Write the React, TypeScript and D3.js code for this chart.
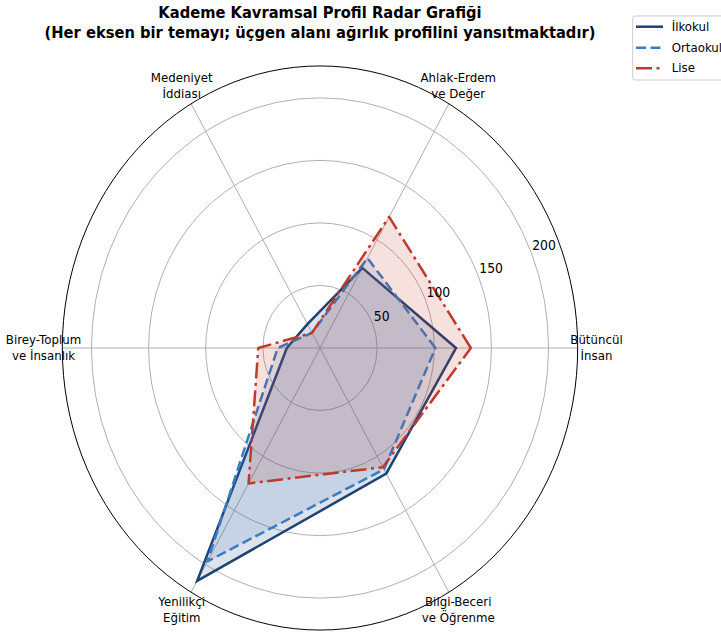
import React from "react";
import * as d3 from "d3";

const axisLabels = [
  ["Bütüncül", "İnsan"],
  ["Ahlak-Erdem", "ve Değer"],
  ["Medeniyet", "İddiası"],
  ["Birey-Toplum", "ve İnsanlık"],
  ["Yenilikçi", "Eğitim"],
  ["Bilgi-Beceri", "ve Öğrenme"],
];
const ilkokul = [119, 74, 22, 29, 215, 116];
const ortaokul = [101, 83, 14, 37, 197, 112];
const lise = [132, 121, 14, 54, 125, 110];
const rTicks = [50, 100, 150, 200];
const rMax = 225.5;

const seriesNames = ["İlkokul", "Ortaokul", "Lise"];
const seriesColors = ["#1d4273", "#3a7cc3", "#c0392b"];
const seriesDash = ["none", "10,4.5", "16,4.5,3,4.5"];
const seriesData = [ilkokul, ortaokul, lise];

const W = 721;
const H = 635;
const SY = 1.0945;
const cx = 320;
const cy = 348 / SY;
const R = 257.7;
const FONT = "DejaVu Sans, sans-serif";

export default function App() {
  const r = d3.scaleLinear().domain([0, rMax]).range([0, R]);
  const n = axisLabels.length;
  const theta = (i: number) => (i * 2 * Math.PI) / n;
  const radial = d3
    .lineRadial<number>()
    .angle((_d, i) => Math.PI / 2 - theta(i))
    .radius((d) => r(d))
    .curve(d3.curveLinearClosed);

  const tickAng = (22.5 * Math.PI) / 180;

  return (
    <svg
      width={W}
      height={H}
      style={{ position: "absolute", left: 0, top: 0, display: "block", background: "#fff" }}
      fontFamily={FONT}
    >
      <g transform={`scale(1,${SY})`}>
        {/* title */}
        <text x={320} y={16.8} textAnchor="middle" fontWeight="bold" fontSize={14.7} fill="#000">
          Kademe Kavramsal Profil Radar Grafiği
        </text>
        <text x={320} y={34.4} textAnchor="middle" fontWeight="bold" fontSize={14.7} fill="#000">
          (Her eksen bir temayı; üçgen alanı ağırlık profilini yansıtmaktadır)
        </text>

        <g transform={`translate(${cx},${cy})`}>
          {/* grid circles */}
          {rTicks.map((t) => (
            <circle key={t} r={r(t)} fill="none" stroke="#b0b0b0" strokeWidth={1} vectorEffect="non-scaling-stroke" />
          ))}
          {/* spokes */}
          {axisLabels.map((_, i) => (
            <line
              key={i}
              x1={0}
              y1={0}
              x2={R * Math.cos(theta(i))}
              y2={-R * Math.sin(theta(i))}
              stroke="#b0b0b0"
              strokeWidth={1}
              vectorEffect="non-scaling-stroke"
            />
          ))}
          {/* series */}
          {seriesData.map((data, s) => (
            <g key={s}>
              <path d={radial(data) || ""} fill={seriesColors[s]} fillOpacity={0.15} stroke="none" />
              <path
                d={radial(data) || ""}
                fill="none"
                stroke={seriesColors[s]}
                strokeWidth={2.5}
                strokeDasharray={seriesDash[s]}
                strokeLinejoin={s === 0 ? "miter" : "round"}
                vectorEffect="non-scaling-stroke"
              />
            </g>
          ))}
          {/* outer circle */}
          <circle r={R} fill="none" stroke="#000" strokeWidth={1} vectorEffect="non-scaling-stroke" />
          {/* r tick labels */}
          {rTicks.map((t) => (
            <text
              key={t}
              x={r(t) * Math.cos(tickAng) + 1}
              y={-r(t) * Math.sin(tickAng) - 2.5}
              fontSize={12.4}
              fill="#000"
              textAnchor="start"
            >
              {t}
            </text>
          ))}
          {/* axis labels */}
          {axisLabels.map((lines, i) => {
            const lx = 276.5 * Math.cos(theta(i));
            const ly = -276.5 * Math.sin(theta(i));
            return (
              <g key={i}>
                <text x={lx} y={ly - 7.5} textAnchor="middle" dominantBaseline="central" fontSize={11.8} fill="#000">
                  {lines[0]}
                </text>
                <text x={lx} y={ly + 7.1} textAnchor="middle" dominantBaseline="central" fontSize={11.8} fill="#000">
                  {lines[1]}
                </text>
              </g>
            );
          })}
        </g>

        {/* legend */}
        <g>
          <rect
            x={632.7}
            y={14.6}
            width={110}
            height={58.5}
            rx={2.5}
            fill="#fff"
            fillOpacity={0.8}
            stroke="#cccccc"
            strokeWidth={1}
            vectorEffect="non-scaling-stroke"
          />
          {seriesNames.map((name, s) => {
            const y = [24.4, 43.6, 62.4][s];
            return (
              <g key={name}>
                <line
                  x1={636}
                  x2={663}
                  y1={y}
                  y2={y}
                  stroke={seriesColors[s]}
                  strokeWidth={2.5}
                  strokeDasharray={seriesDash[s]}
                  vectorEffect="non-scaling-stroke"
                />
                <text x={671.7} y={y} dominantBaseline="central" fontSize={11.8} fill="#000">
                  {name}
                </text>
              </g>
            );
          })}
        </g>
      </g>
    </svg>
  );
}
